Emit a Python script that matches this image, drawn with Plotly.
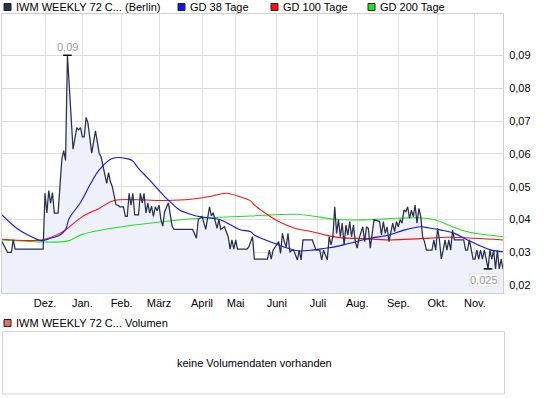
import plotly.graph_objects as go

W, H = 545, 398

# ---------------- data (trading-day index, value) ----------------
price_day = [0, 3, 5, 6, 7, 22, 23, 24, 25, 26, 27, 28, 30, 31, 32, 33, 34, 35, 38,
             40, 41, 42, 43, 44, 45, 46, 48, 50, 52, 53, 54, 55, 56, 57, 58, 59,
             61, 62, 63, 65, 66, 67, 68, 69, 70, 71, 73, 74, 75, 76, 77, 78, 79,
             80, 81, 82, 83, 84, 85, 86, 87, 89, 90, 91, 92, 102, 104, 105, 107,
             109, 111, 112, 113, 115, 116, 117, 119, 121, 122, 123, 124, 125, 126,
             131, 132, 134, 135, 142, 143, 144, 145, 148, 149, 150, 151, 152, 153,
             154, 155, 156, 158, 159, 160, 161, 166, 168, 170, 171, 172, 174, 175,
             176, 177, 178, 179, 180, 181, 182, 183, 184, 185, 186, 187, 188, 189,
             190, 191, 192, 193, 194, 195, 196, 197, 199, 201, 202, 203, 204, 205,
             206, 207, 208, 209, 210, 211, 212, 213, 214, 215, 216, 217, 218, 219,
             220, 221, 222, 223, 224, 225, 226, 227, 230, 231, 232, 233, 234, 235,
             236, 237, 238, 239, 240, 241, 242, 247, 248, 249, 250, 251, 252, 253,
             254, 255, 256, 257, 258, 259, 260, 261, 262, 263, 264, 265, 266, 267, 268]
price_val = [0.0333, 0.030, 0.030, 0.0338, 0.031, 0.031, 0.048, 0.042, 0.0488, 0.045,
             0.0482, 0.042, 0.042, 0.049, 0.0583, 0.061, 0.058, 0.090, 0.0614,
             0.068, 0.0673, 0.068, 0.0652, 0.0652, 0.0711, 0.0693, 0.0602, 0.067,
             0.0602, 0.0591, 0.0561, 0.054, 0.051, 0.0543, 0.0515, 0.050,
             0.0445, 0.0444, 0.0439, 0.0439, 0.041, 0.041, 0.048, 0.0444, 0.048,
             0.0414, 0.0414, 0.048, 0.0451, 0.048, 0.042, 0.045, 0.042,
             0.0441, 0.041, 0.0439, 0.0427, 0.0444, 0.040, 0.038, 0.0424, 0.0451,
             0.042, 0.038, 0.037, 0.037, 0.0343, 0.040, 0.041,
             0.037, 0.0439, 0.0411, 0.0421, 0.0373, 0.040, 0.037, 0.0378, 0.0348,
             0.031, 0.0338, 0.031, 0.0338, 0.031,
             0.031, 0.0317, 0.0348, 0.028, 0.028, 0.0307, 0.028, 0.0307, 0.0333,
             0.0297, 0.0358, 0.0333, 0.0317, 0.0358,
             0.030, 0.0307, 0.0307, 0.0277, 0.0307, 0.0277, 0.0338, 0.0338, 0.0307,
             0.0307, 0.0277, 0.0307, 0.0277, 0.0348,
             0.0323, 0.0348, 0.0439, 0.0358, 0.040, 0.0348, 0.0389, 0.0323, 0.0383,
             0.0353, 0.0394, 0.0348, 0.0383, 0.0333,
             0.0313, 0.0343, 0.0358, 0.0378, 0.0333, 0.0378, 0.0373, 0.0313, 0.040,
             0.0396, 0.0394, 0.0353, 0.0394, 0.0358,
             0.0378, 0.0333, 0.0368, 0.0389, 0.0363, 0.0394, 0.0378, 0.040, 0.0389,
             0.0429, 0.0424, 0.0439, 0.0404, 0.0429,
             0.0409, 0.0444, 0.0389, 0.0434, 0.0409, 0.0348, 0.0333, 0.0307, 0.0307,
             0.0338, 0.0307, 0.0373, 0.0338, 0.028,
             0.0307, 0.0338, 0.0307, 0.0338, 0.0307, 0.0368, 0.0338, 0.0338, 0.0307,
             0.0307, 0.0338, 0.0307, 0.028, 0.028,
             0.0307, 0.028, 0.0307, 0.028, 0.0307, 0.028, 0.025, 0.0307, 0.028,
             0.0307, 0.025, 0.0307, 0.025, 0.028, 0.025]

gd38_day = [0, 8, 15, 21, 26, 31, 34, 36, 42, 47, 52, 59, 68, 70, 73, 79, 87, 90, 95,
            102, 108, 117, 127, 133, 135, 141, 148, 153, 158, 166, 173, 178, 186,
            197, 207, 215, 224, 228, 235, 242, 249, 257, 262, 268]
gd38_val = [0.0414, 0.0373, 0.0350, 0.0336, 0.0343, 0.0353, 0.0370, 0.0404, 0.0452,
            0.0505, 0.0551, 0.0586, 0.0584, 0.0578, 0.0556, 0.0520, 0.0470, 0.0454,
            0.0429, 0.0414, 0.0407, 0.0399, 0.0370, 0.0363, 0.0353, 0.0338, 0.0323,
            0.0313, 0.0305, 0.0307, 0.0313, 0.0317, 0.0328, 0.0343, 0.0353, 0.0368,
            0.0378, 0.0375, 0.0368, 0.0358, 0.0338, 0.0317, 0.0307, 0.0302]

gd100_day = [0, 21, 31, 35, 43, 52, 60, 87, 101, 111, 120, 127, 133, 135, 141, 148,
             157, 166, 173, 181, 193, 207, 224, 239, 253, 268]
gd100_val = [0.0340, 0.0338, 0.0358, 0.0373, 0.0409, 0.0434, 0.0458, 0.0458, 0.0462,
             0.0470, 0.0480, 0.0470, 0.0457, 0.0444, 0.0419, 0.0394, 0.0373, 0.0363,
             0.0353, 0.0345, 0.0342, 0.0338, 0.0342, 0.0346, 0.0343, 0.0338]

gd200_day = [0, 21, 31, 36, 43, 58, 87, 106, 133, 157, 166, 178, 193, 211, 224, 232,
             239, 249, 260, 268]
gd200_val = [0.0338, 0.0332, 0.0332, 0.0336, 0.0355, 0.0373, 0.0394, 0.0404, 0.0411,
             0.0416, 0.0411, 0.0401, 0.0399, 0.0404, 0.0405, 0.0399, 0.0383, 0.0363,
             0.0353, 0.0348]

month_pos = [23, 43, 64, 84, 107, 125, 147, 169, 190, 212, 233, 253]
month_lbl = ["Dez.", "Jan.", "Feb.", "März", "April", "Mai", "Juni", "Juli",
             "Aug.", "Sep.", "Okt.", "Nov."]
y_ticks = [0.02, 0.03, 0.04, 0.05, 0.06, 0.07, 0.08, 0.09]
y_lbl = ["0,02", "0,03", "0,04", "0,05", "0,06", "0,07", "0,08", "0,09"]

series_names = ["IWM WEEKLY 72 C... (Berlin)", "GD 38 Tage", "GD 100 Tage", "GD 200 Tage"]
volume_name = "IWM WEEKLY 72 C... Volumen"
no_volume_text = "keine Volumendaten vorhanden"

# ---------------- styling ----------------
FONT = "Liberation Sans, Arial, sans-serif"
C_PRICE = "#27304d"
C_FILL = "#eef1f9"
C_38 = "#1010ff"
C_100 = "#ff1010"
C_200 = "#22e022"
C_VOL = "#d9736b"
GRID = "#dcdcdc"

PL, PR, PT, PB = 2, 503, 14, 293   # plot area in pixels


def fx(px):
    return px / W


def fy(py):
    return 1 - py / H


fig = go.Figure()
fig.add_trace(go.Scatter(x=price_day, y=price_val, mode="lines",
                         line=dict(width=0, color=C_FILL), fill="tozeroy",
                         fillcolor=C_FILL, hoverinfo="skip", showlegend=False))
fig.add_trace(go.Scatter(x=gd200_day, y=gd200_val, mode="lines",
                         line=dict(color=C_200, width=1.1, shape="spline"), showlegend=False))
fig.add_trace(go.Scatter(x=gd100_day, y=gd100_val, mode="lines",
                         line=dict(color=C_100, width=1.1, shape="spline"), showlegend=False))
fig.add_trace(go.Scatter(x=gd38_day, y=gd38_val, mode="lines",
                         line=dict(color=C_38, width=1.1, shape="spline"), showlegend=False))
fig.add_trace(go.Scatter(x=price_day, y=price_val, mode="lines",
                         line=dict(color=C_PRICE, width=1.25), showlegend=False))

x_range = [0, 268]
y_lo = 0.02 - (PB - 285.3) / 3286
y_hi = 0.02 + (285.3 - PT) / 3286

fig.update_layout(
    width=W, height=H, margin=dict(l=0, r=0, t=0, b=0),
    paper_bgcolor="white", plot_bgcolor="white",
    font=dict(family=FONT, size=11, color="#000000"),
    showlegend=False,
    xaxis=dict(domain=[fx(PL), fx(PR)], range=x_range, tickvals=month_pos,
               ticktext=month_lbl, showgrid=True, gridcolor=GRID, gridwidth=1,
               zeroline=False, showline=True, linecolor="#cfcfcf", mirror=True,
               ticks="", tickfont=dict(size=11, family=FONT)),
    yaxis=dict(domain=[fy(PB), fy(PT)], range=[y_lo, y_hi], side="right",
               tickvals=y_ticks, ticktext=y_lbl, showgrid=True, gridcolor=GRID,
               gridwidth=1, zeroline=False, showline=True, linecolor="#cfcfcf",
               mirror=True, ticks="", ticklabelstandoff=3,
               tickfont=dict(size=11, family=FONT)),
)


def fmt(v):
    s = ("%.3f" % v).rstrip("0")
    return s.replace(".", ",")


# high / low markers derived from the data
i_max = max(range(len(price_val)), key=lambda i: price_val[i])
i_min = min(range(len(price_val)), key=lambda i: price_val[i])
shapes = []
annos = []
for i in (i_max, i_min):
    shapes.append(dict(type="line", xref="x", yref="y",
                       x0=price_day[i] - 2.3, x1=price_day[i] + 2.3,
                       y0=price_val[i], y1=price_val[i],
                       line=dict(color="#000000", width=1.5)))
annos.append(dict(x=price_day[i_max], y=price_val[i_max], xref="x", yref="y",
                  text=fmt(price_val[i_max]), showarrow=False, yshift=8,
                  font=dict(size=11, color="#9a9a9a", family=FONT)))
annos.append(dict(x=price_day[i_min], y=price_val[i_min], xref="x", yref="y",
                  text=fmt(price_val[i_min]), showarrow=False, yshift=-11, xshift=-4,
                  bgcolor="rgba(248,248,248,0.95)", bordercolor="#e6e6e6",
                  borderwidth=1, borderpad=0,
                  font=dict(size=11, color="#9a9a9a", family=FONT)))

# legend (top)
leg_colors = [C_PRICE, C_38, C_100, C_200]
leg_x = [4, 178, 271, 368]
for name, col, x0 in zip(series_names, leg_colors, leg_x):
    shapes.append(dict(type="rect", xref="paper", yref="paper",
                       x0=fx(x0), x1=fx(x0 + 7), y0=fy(3.5), y1=fy(10.5),
                       fillcolor=col, line=dict(color="#222222", width=1)))
    annos.append(dict(x=fx(x0 + 10), y=fy(7), xref="paper", yref="paper",
                      text=name, showarrow=False, xanchor="left", yanchor="middle",
                      font=dict(size=11, family=FONT, color="#000000")))

# volume panel
shapes.append(dict(type="rect", xref="paper", yref="paper",
                   x0=fx(4), x1=fx(11), y0=fy(319.5), y1=fy(326.5),
                   fillcolor=C_VOL, line=dict(color="#222222", width=1)))
annos.append(dict(x=fx(14), y=fy(323), xref="paper", yref="paper",
                  text=volume_name, showarrow=False, xanchor="left", yanchor="middle",
                  font=dict(size=11, family=FONT, color="#000000")))
shapes.append(dict(type="rect", xref="paper", yref="paper",
                   x0=fx(2.5), x1=fx(504.5), y0=fy(394), y1=fy(331.5),
                   fillcolor="rgba(0,0,0,0)", line=dict(color="#d4d4d4", width=1)))
annos.append(dict(x=fx(254), y=fy(363), xref="paper", yref="paper",
                  text=no_volume_text, showarrow=False, xanchor="center",
                  yanchor="middle", font=dict(size=11, family=FONT, color="#000000")))

fig.update_layout(shapes=shapes, annotations=annos)
fig.write_html("out.html",
               config={"displayModeBar": False, "staticPlot": True},
               post_script="document.body.style.margin='0';document.body.style.overflow='hidden';")
